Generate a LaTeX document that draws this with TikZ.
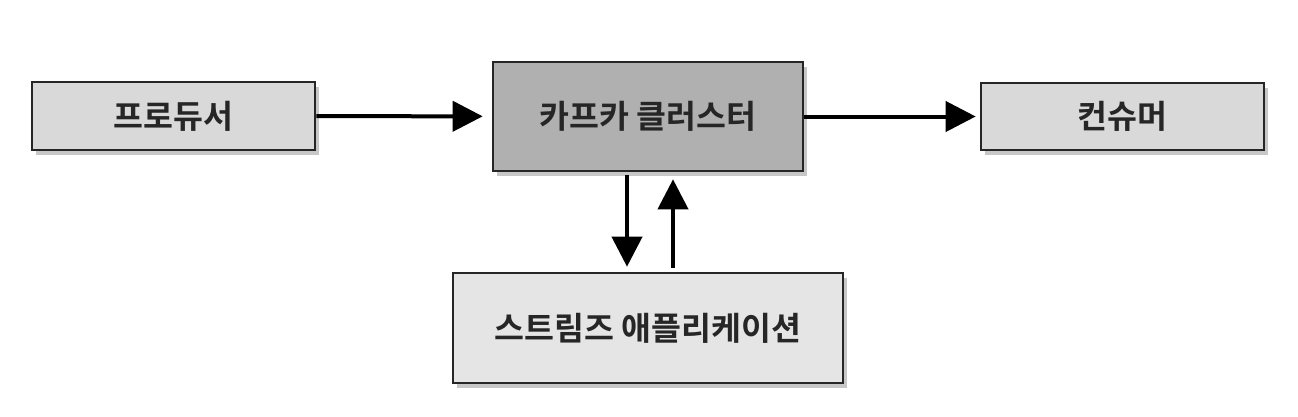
\documentclass[tikz,border=0pt]{standalone}
\usepackage{fontspec}
\usepackage{tikz}
\usetikzlibrary{arrows.meta}
\usetikzlibrary{shadows}
\newfontfamily\krfont{Noto Sans CJK KR Bold}

\begin{document}
\begin{tikzpicture}[x=1pt, y=1pt,
		box/.style={draw=black!85, line width=2.6pt, inner sep=0pt, font=\krfont\fontsize{32.5}{32.5}\selectfont, text=black!85,
				drop shadow={shadow xshift=4pt, shadow yshift=-5pt, fill=black, opacity=0.22}},
		flow/.style={line width=4pt, -{Triangle[length=30pt,width=30pt]}}
		]
		\useasboundingbox (0,0) rectangle (1298,416);
		\node[box, fill=black!15, minimum width=283pt, minimum height=68pt] (prod) at (173.5,300) {프로듀서};
		\node[box, fill=black!31, minimum width=310pt, minimum height=109pt] (kafka) at (648,299.5) {카프카 클러스터};
		\node[box, fill=black!15, minimum width=283pt, minimum height=67pt] (cons) at (1122.5,299.5) {컨슈머};
		\node[box, fill=black!10, minimum width=390pt, minimum height=110pt] (app) at (648,88) {스트림즈 애플리케이션};
		\draw[flow, shorten >=9pt] (prod) -- (kafka);
		\draw[flow, shorten >=4pt] (kafka) -- (cons);
		\draw[flow, shorten <=3pt, shorten >=5pt] ([xshift=-21pt]kafka.south) -- ([xshift=-21pt]app.north);
		\draw[flow, shorten <=4pt, shorten >=7pt] ([xshift=25pt]app.north) -- ([xshift=25pt]kafka.south);
\end{tikzpicture}
\end{document}
